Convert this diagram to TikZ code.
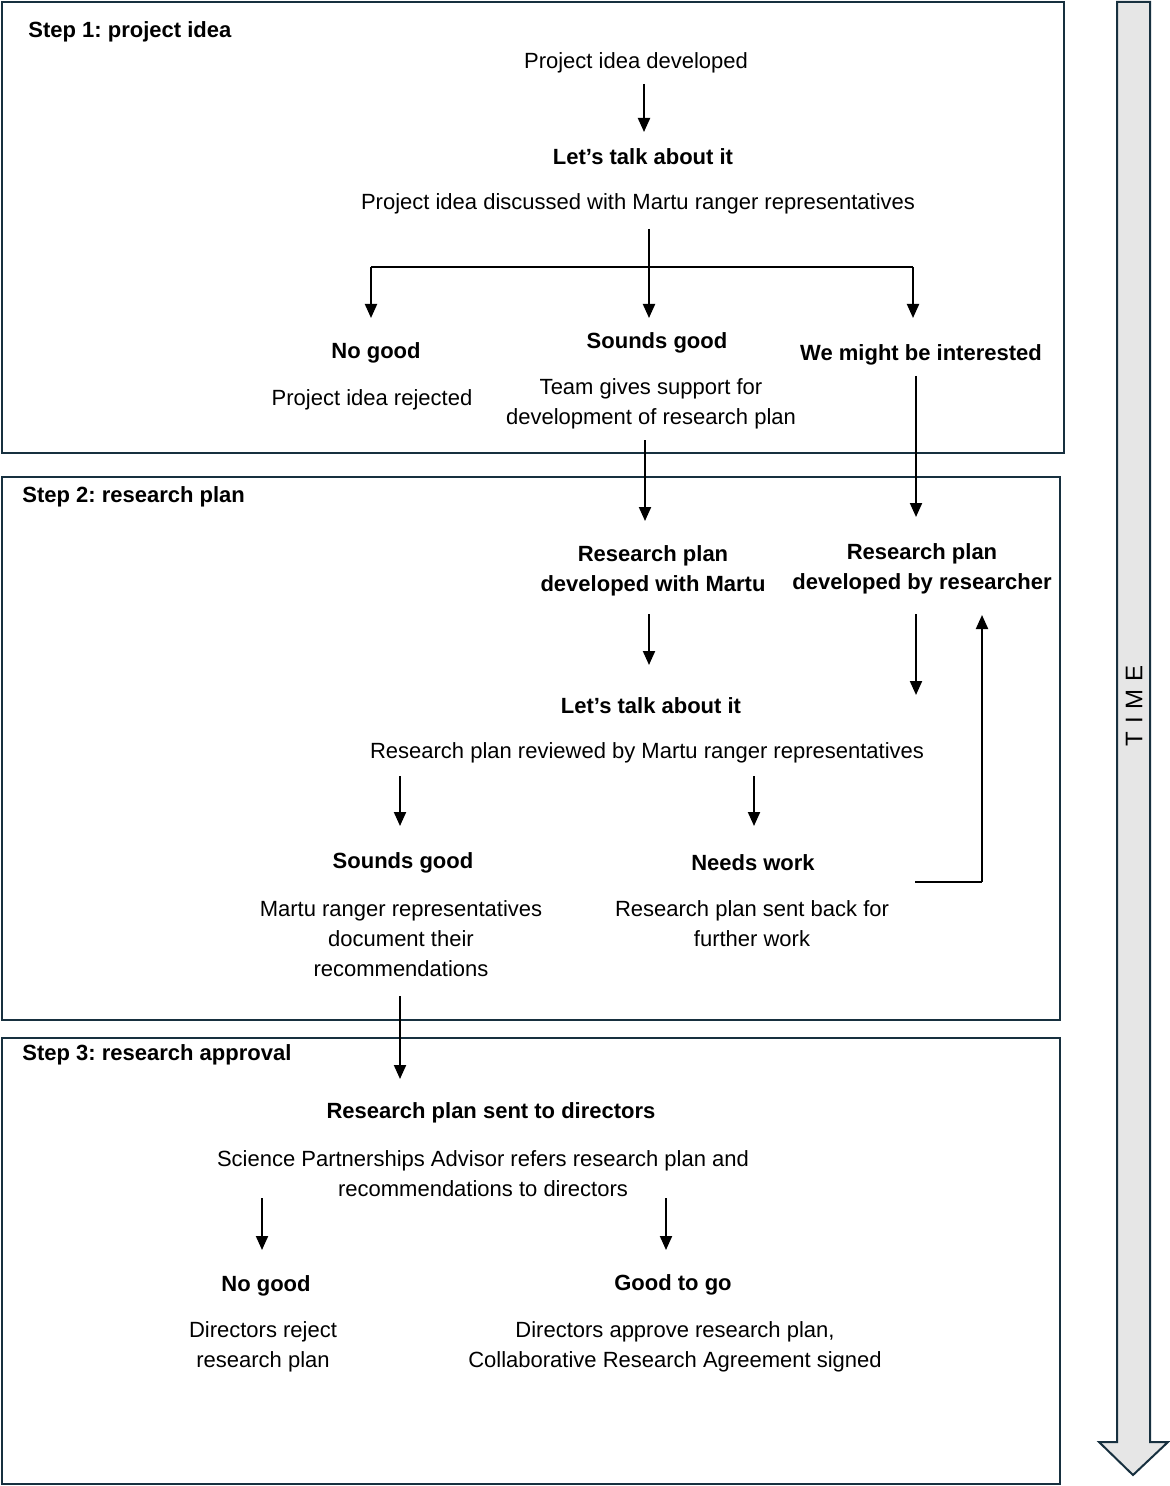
\documentclass[tikz,border=0pt]{standalone}
\usepackage{fontspec}
\setmainfont{Liberation Sans}
\usetikzlibrary{arrows.meta}
\definecolor{navy}{HTML}{17303F}
\definecolor{lgray}{HTML}{E6E6E6}
\frenchspacing
\begin{document}
\begin{tikzpicture}[x=0.5pt,y=-0.5pt,
  stepbox/.style={draw=navy,line width=1pt},
  txt/.style={inner sep=0pt,yshift=-1pt,font=\fontsize{11}{15}\selectfont,align=center},
  btxt/.style={inner sep=0pt,yshift=-1pt,font=\fontsize{11}{15}\selectfont\bfseries,align=center},
  steplabel/.style={inner sep=0pt,yshift=-1pt,anchor=west,font=\fontsize{11}{15}\selectfont\bfseries},
  arr/.style={line width=1pt,-{Triangle[width=6pt,length=7pt]}},
  ln/.style={line width=0.7pt}]
\useasboundingbox (0,0) rectangle (1170,1486);
% boxes
\draw[stepbox] (2,2) rectangle (1064,453);
\draw[stepbox] (2,477) rectangle (1060,1020);
\draw[stepbox] (2,1038) rectangle (1060,1484);
% time arrow
\draw[draw=navy,fill=lgray,line width=1pt,line join=miter]
  (1117,2) -- (1150,2) -- (1150,1442) -- (1168,1442) -- (1133,1475) -- (1099,1442) -- (1117,1442) -- cycle;
\node[inner sep=0pt,rotate=90,font=\fontsize{12}{14}\selectfont] (time) at (1134,706) {T\kern3.8pt I\kern3.8pt M\kern3.8pt E};
% step labels
\node[steplabel] (s1) at (28,30) {Step 1: project idea};
\node[steplabel] (s2) at (22,495) {Step 2: research plan};
\node[steplabel] (s3) at (22,1053) {Step 3: research approval};
% step 1
\node[txt] (pid) at (636,61) {Project idea developed};
\node[btxt] (talk1) at (643,155) {Let’s talk about it};
\node[txt] (disc) at (638,202) {Project idea discussed with Martu ranger representatives};
\node[btxt] (nogood1) at (376,351) {No good};
\node[txt] (rej) at (372,398) {Project idea rejected};
\node[btxt] (sg1) at (657,341) {Sounds good};
\node[txt] (team) at (651,402) {Team gives support for\\development of research plan};
\node[btxt] (might) at (921,353) {We might be interested};
% step 2
\node[btxt] (rpm) at (653,569) {Research plan\\developed with Martu};
\node[btxt] (rpr) at (922,567) {Research plan\\developed by researcher};
\node[btxt] (talk2) at (651,704) {Let’s talk about it};
\node[txt] (rev) at (647,751) {Research plan reviewed by Martu ranger representatives};
\node[btxt] (sg2) at (403,861) {Sounds good};
\node[txt] (doc) at (401,937) {Martu ranger representatives\\document their\\recommendations};
\node[btxt] (nw) at (753,861) {Needs work};
\node[txt] (back) at (752,922) {Research plan sent back for\\further work};
% step 3
\node[btxt] (dirs) at (491,1111) {Research plan sent to directors};
\node[txt] (spa) at (483,1172) {Science Partnerships Advisor refers research plan and\\recommendations to directors};
\node[btxt] (nogood3) at (266,1284) {No good};
\node[txt] (drej) at (263,1345) {Directors reject\\research plan};
\node[btxt] (go) at (673,1283) {Good to go};
\node[txt] (dapp) at (675,1345) {Directors approve research plan,\\Collaborative Research Agreement signed};
% connector coordinates
\coordinate (a1s) at (644,84);   \coordinate (a1e) at (644,132);
\coordinate (br0) at (649,229);  \coordinate (brc) at (649,267);
\coordinate (brl) at (371,267);  \coordinate (brr) at (913,267);
\coordinate (bl) at (371,318);   \coordinate (bc) at (649,318);  \coordinate (bre) at (913,318);
\coordinate (m1s) at (916,376);  \coordinate (m1e) at (916,517);
\coordinate (g1s) at (645,440);  \coordinate (g1e) at (645,521);
\coordinate (c1s) at (649,614);  \coordinate (c1e) at (649,665);
\coordinate (r1s) at (916,614);  \coordinate (r1e) at (916,695);
\coordinate (nbs) at (915,882);  \coordinate (nbc) at (982,882);  \coordinate (nbe) at (982,615);
\coordinate (v1s) at (400,776);  \coordinate (v1e) at (400,826);
\coordinate (v2s) at (754,776);  \coordinate (v2e) at (754,826);
\coordinate (d1s) at (400,996);  \coordinate (d1e) at (400,1079);
\coordinate (e1s) at (262,1198); \coordinate (e1e) at (262,1250);
\coordinate (e2s) at (666,1198); \coordinate (e2e) at (666,1250);
% connectors
\draw[arr] (a1s) -- (a1e);
\draw[line width=1pt] (br0) -- (brc);
\draw[ln] (brl) -- (brr);
\draw[arr] (brl) -- (bl);
\draw[arr] (brc) -- (bc);
\draw[arr] (brr) -- (bre);
\draw[arr] (m1s) -- (m1e);
\draw[arr] (g1s) -- (g1e);
\draw[arr] (c1s) -- (c1e);
\draw[arr] (r1s) -- (r1e);
\draw[ln] (nbs) -- (nbc);
\draw[arr] (nbc) -- (nbe);
\draw[arr] (v1s) -- (v1e);
\draw[arr] (v2s) -- (v2e);
\draw[arr] (d1s) -- (d1e);
\draw[arr] (e1s) -- (e1e);
\draw[arr] (e2s) -- (e2e);
\end{tikzpicture}
\end{document}
